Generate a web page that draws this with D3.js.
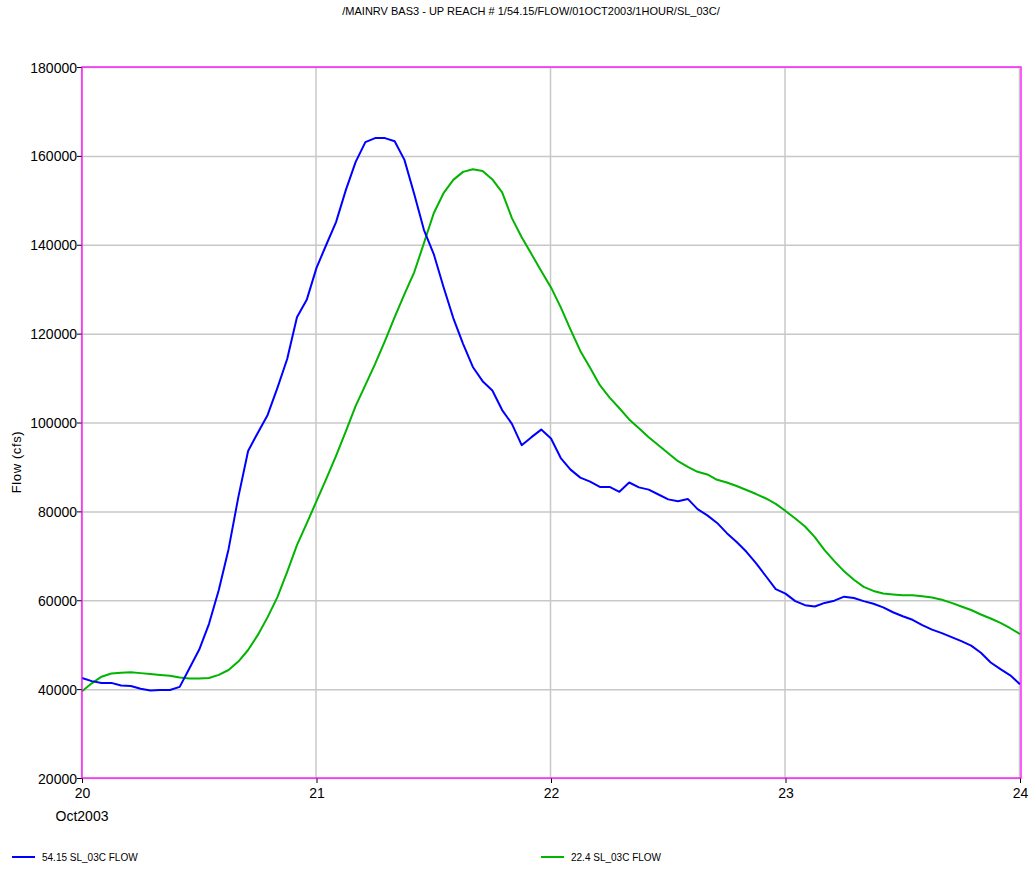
<!DOCTYPE html>
<html>
<head>
<meta charset="utf-8">
<script src="https://cdn.jsdelivr.net/npm/d3@7"></script>
<style>
  body { margin: 0; background: #fff; }
  text { font-family: "Liberation Sans", Arial, sans-serif; fill: #000; }
</style>
</head>
<body>
<script>
// hourly flow, 20Oct2003 00:00 -> 24Oct2003 00:00
var startTime = new Date(2003, 9, 20, 0, 0);
var endTime = new Date(2003, 9, 24, 0, 0);

var flowUp = [42500, 41800, 41400, 41400, 40800, 40700, 40100, 39700, 39800, 39800,
  40500, 44700, 48900, 54700, 62300, 71500, 83200, 93600, 97700, 101700,
  107800, 114300, 123700, 127600, 134800, 140000, 145100, 152300, 158600, 163100,
  164000, 164000, 163300, 159100, 151400, 143300, 137900, 130500, 123500, 117700,
  112500, 109300, 107200, 102800, 99700, 94900, 96700, 98400, 96400, 92000,
  89400, 87600, 86700, 85500, 85500, 84400, 86500, 85400, 84900, 83800,
  82700, 82300, 82800, 80500, 79100, 77400, 75100, 73100, 70900, 68300,
  65400, 62500, 61500, 59800, 58900, 58600, 59400, 59900, 60800, 60500,
  59800, 59200, 58400, 57300, 56400, 55600, 54400, 53400, 52600, 51700,
  50800, 49800, 48200, 46000, 44500, 43100, 41100];

var flowDown = [39500, 41300, 42800, 43500, 43700, 43800, 43600, 43400, 43200, 43000,
  42600, 42400, 42400, 42500, 43200, 44300, 46200, 48800, 52200, 56200,
  60700, 66400, 72400, 77300, 82300, 87300, 92500, 98000, 103700, 108400,
  113200, 118300, 123700, 128900, 133800, 140400, 147100, 151600, 154600, 156400,
  157000, 156600, 154700, 151800, 146000, 141700, 137900, 134100, 130400, 125900,
  120900, 116100, 112300, 108400, 105600, 103200, 100700, 98700, 96700, 94900,
  93100, 91300, 90000, 88900, 88300, 87100, 86500, 85700, 84800, 83900,
  82900, 81700, 80100, 78400, 76600, 74200, 71300, 68800, 66500, 64600,
  63000, 62100, 61500, 61300, 61100, 61100, 60900, 60600, 60100, 59400,
  58600, 57800, 56800, 55900, 54900, 53700, 52400];

var seriesNames = ["54.15 SL_03C FLOW", "22.4 SL_03C FLOW"];
var seriesColors = ["#0000ff", "#00b400"];
var yTicks = [20000, 40000, 60000, 80000, 100000, 120000, 140000, 160000, 180000];
var dayTicks = [20, 21, 22, 23, 24];

var title = "/MAINRV BAS3 - UP REACH # 1/54.15/FLOW/01OCT2003/1HOUR/SL_03C/";

var width = 1032, height = 870;
var plotL = 82, plotR = 1020, plotT = 67, plotB = 778;

var svg = d3.select("body").append("svg")
  .attr("width", width)
  .attr("height", height);

var x = d3.scaleTime().domain([startTime, endTime]).range([plotL, plotR]);
var y = d3.scaleLinear().domain([20000, 180000]).range([plotB, plotT]);

function hourDate(i) {
  return new Date(startTime.getTime() + i * 3600 * 1000);
}

// title
svg.append("text")
  .attr("x", 531).attr("y", 15)
  .attr("text-anchor", "middle")
  .style("font-size", "11px")
  .text(title);

// grid
svg.append("g").selectAll("line")
  .data(yTicks)
  .enter().append("line")
  .attr("x1", plotL).attr("x2", plotR)
  .attr("y1", function(d) { return y(d) + 0.5; })
  .attr("y2", function(d) { return y(d) + 0.5; })
  .attr("stroke", "#c8c8c8").attr("stroke-width", 1.5);

svg.append("g").selectAll("line")
  .data(dayTicks)
  .enter().append("line")
  .attr("x1", function(d) { return x(new Date(2003, 9, d)) - 0.5; })
  .attr("x2", function(d) { return x(new Date(2003, 9, d)) - 0.5; })
  .attr("y1", plotT).attr("y2", plotB)
  .attr("stroke", "#c8c8c8").attr("stroke-width", 1.5);

// axes
var yAxis = d3.axisLeft(y).tickValues(yTicks).tickSize(5).tickSizeOuter(0).tickPadding(0)
  .tickFormat(d3.format("d"));
var gy = svg.append("g").attr("transform", "translate(" + plotL + ",0)").call(yAxis);
gy.select(".domain").remove();
gy.selectAll("text").style("font-size", "14px").attr("dy", "0.36em");

var xAxis = d3.axisBottom(x)
  .tickValues(dayTicks.map(function(d) { return new Date(2003, 9, d); }))
  .tickSize(5).tickSizeOuter(0).tickPadding(5)
  .tickFormat(function(d) { return d.getDate(); });
var gx = svg.append("g").attr("transform", "translate(0," + plotB + ")").call(xAxis);
gx.select(".domain").remove();
gx.selectAll("text").style("font-size", "14px");

svg.append("text")
  .attr("x", x(startTime)).attr("y", 821)
  .attr("text-anchor", "middle")
  .style("font-size", "14px")
  .text("Oct2003");

// y title
svg.append("text")
  .attr("transform", "translate(21,462) rotate(-90)")
  .attr("text-anchor", "middle")
  .style("font-size", "13px")
  .style("letter-spacing", "0.6px")
  .text("Flow (cfs)");

// series
var line = d3.line()
  .x(function(d, i) { return x(hourDate(i)); })
  .y(function(d) { return y(d); });

var allSeries = [flowUp, flowDown];

svg.append("g").selectAll("path")
  .data([flowDown, flowUp])
  .enter().append("path")
  .attr("d", line)
  .attr("fill", "none")
  .attr("stroke", function(d) { return seriesColors[allSeries.indexOf(d)]; })
  .attr("stroke-width", 2)
  .attr("stroke-linejoin", "round");

// magenta frame
svg.append("rect")
  .attr("x", plotL).attr("y", plotT)
  .attr("width", plotR - plotL + 1).attr("height", plotB - plotT)
  .attr("fill", "none")
  .attr("stroke", "#ff00ff").attr("stroke-width", 1.5)
  .attr("stroke-opacity", 0.85);

// legend
var legendX = [12, 541];
var lg = svg.append("g").selectAll("g")
  .data(seriesNames)
  .enter().append("g")
  .attr("transform", function(d, i) { return "translate(" + legendX[i] + ",857)"; });
lg.append("line")
  .attr("x1", 0).attr("x2", 23)
  .attr("stroke", function(d, i) { return seriesColors[i]; })
  .attr("stroke-width", 2);
lg.append("text")
  .attr("x", 30).attr("y", 4)
  .style("font-size", "10px")
  .text(function(d) { return d; });
</script>
</body>
</html>
